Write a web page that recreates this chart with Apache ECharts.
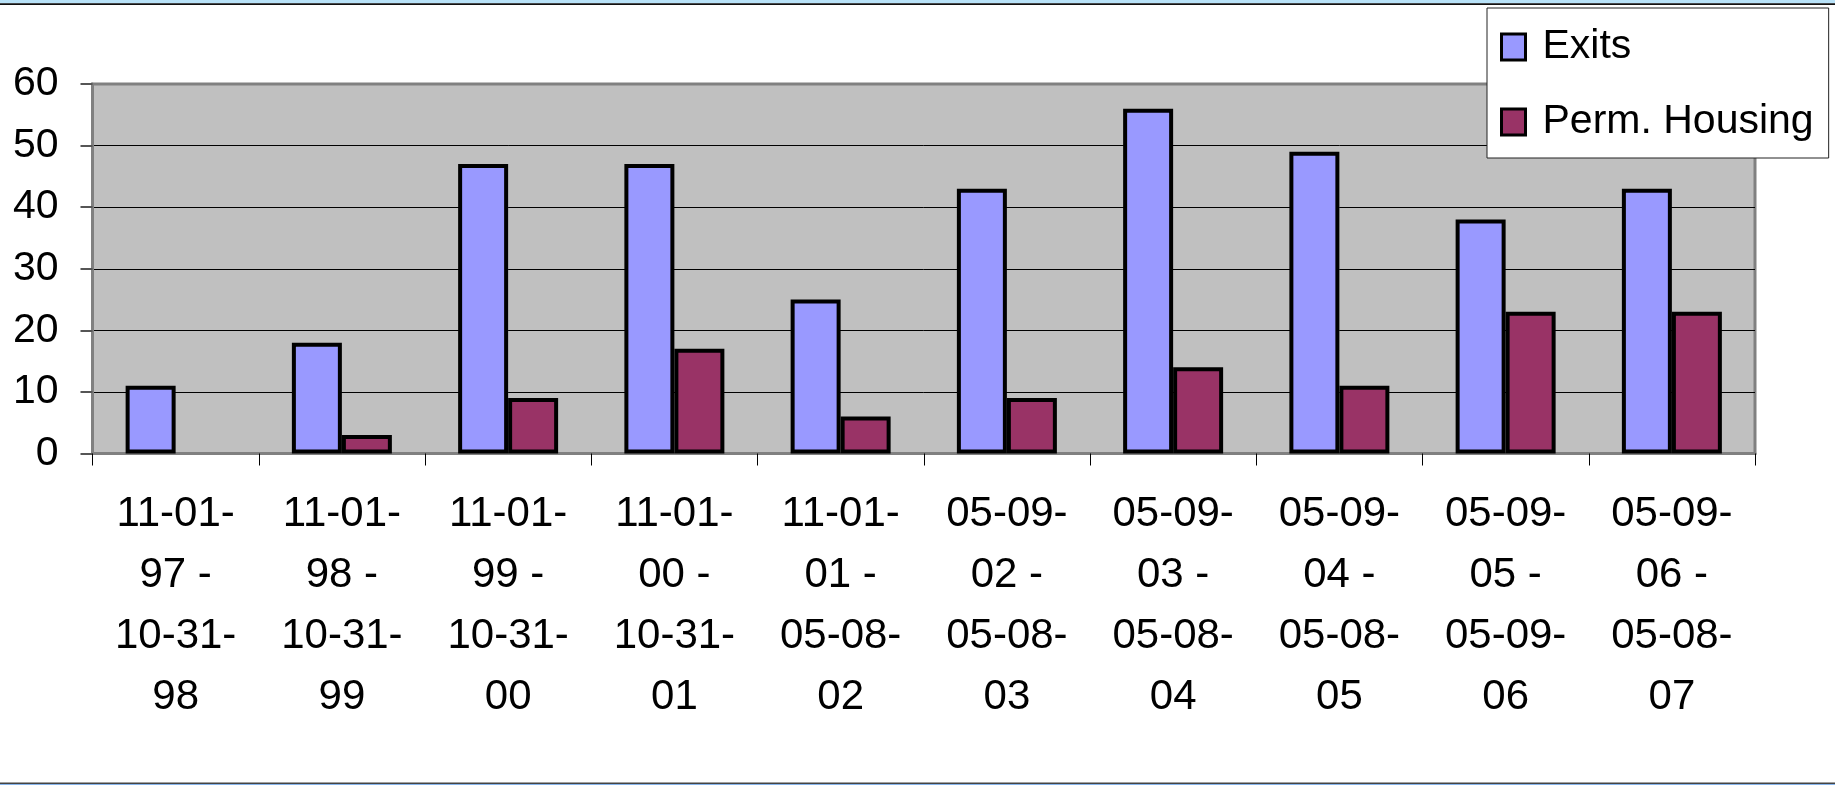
<!DOCTYPE html>
<html>
<head>
<meta charset="utf-8">
<script src="https://cdn.jsdelivr.net/npm/echarts@6/dist/echarts.min.js"></script>
<style>
html,body{margin:0;padding:0;background:#fff;}
#chart{width:1835px;height:785px;}
</style>
</head>
<body>
<div id="chart"></div>
<script>
// Data
const categories = [
  "11-01-\n97 -\n10-31-\n98",
  "11-01-\n98 -\n10-31-\n99",
  "11-01-\n99 -\n10-31-\n00",
  "11-01-\n00 -\n10-31-\n01",
  "11-01-\n01 -\n05-08-\n02",
  "05-09-\n02 -\n05-08-\n03",
  "05-09-\n03 -\n05-08-\n04",
  "05-09-\n04 -\n05-08-\n05",
  "05-09-\n05 -\n05-09-\n06",
  "05-09-\n06 -\n05-08-\n07"
];
const exits = [11, 18, 47, 47, 25, 43, 56, 49, 38, 43];
const permHousing = ['-', 3, 9, 17, 6, 9, 14, 11, 23, 23];
const yTicks = [0, 10, 20, 30, 40, 50, 60];

const FONT = "'Liberation Sans', Arial, sans-serif";
const chart = echarts.init(document.getElementById('chart'));
chart.setOption({
  animation: false,
  backgroundColor: '#ffffff',
  textStyle: { fontFamily: FONT },
  graphic: [
    { type: 'rect', shape: { x: 0, y: 0, width: 1835, height: 3.3 }, style: { fill: '#b8e2f8' }, silent: true },
    { type: 'rect', shape: { x: 0, y: 3.3, width: 1835, height: 1.6 }, style: { fill: '#111111' }, silent: true },
    { type: 'rect', shape: { x: 0, y: 782.6, width: 1835, height: 1.5 }, style: { fill: '#444444' }, silent: true },
    { type: 'rect', shape: { x: 0, y: 784.1, width: 1835, height: 1 }, style: { fill: '#86b4ec' }, silent: true }
  ],
  grid: {
    left: 92.5, right: 80, top: 84, bottom: 331.5,
    show: true, backgroundColor: '#c0c0c0', borderColor: '#808080', borderWidth: 3
  },
  legend: {
    orient: 'vertical',
    left: 1487, top: 8,
    padding: [17, 15, 14, 13],
    backgroundColor: '#ffffff',
    borderColor: '#222222', borderWidth: 1,
    itemWidth: 24, itemHeight: 26, itemGap: 31,
    icon: 'rect',
    itemStyle: { borderColor: '#000', borderWidth: 3 },
    textStyle: { fontFamily: FONT, fontSize: 41, color: '#000', lineHeight: 44, padding: [0, 0, 0, 12] },
    data: ['Exits', 'Perm. Housing']
  },
  xAxis: {
    type: 'category',
    data: categories,
    boundaryGap: true,
    axisLine: { show: true, lineStyle: { color: '#808080', width: 3 } },
    axisTick: { show: true, length: 12, lineStyle: { color: '#000', width: 1 } },
    axisLabel: { fontFamily: FONT, fontSize: 42, lineHeight: 61, color: '#000', margin: 30, interval: 0 },
    splitLine: { show: false }
  },
  yAxis: {
    type: 'value',
    min: yTicks[0], max: yTicks[yTicks.length - 1], interval: 10,
    axisLine: { show: true, lineStyle: { color: '#808080', width: 3 } },
    axisTick: { show: true, length: 12, lineStyle: { color: '#555', width: 2 } },
    axisLabel: { fontFamily: FONT, fontSize: 41, color: '#000', margin: 34 },
    splitLine: { show: true, lineStyle: { color: ['#808080', '#000', '#000', '#000', '#000', '#000', '#808080'], width: 1 } }
  },
  series: [
    {
      name: 'Exits', type: 'bar', data: exits,
      barWidth: 50, barGap: '0%',
      itemStyle: { color: '#9999ff', borderColor: '#000', borderWidth: 4 }
    },
    {
      name: 'Perm. Housing', type: 'bar', data: permHousing,
      barWidth: 50, barGap: '0%',
      itemStyle: { color: '#993366', borderColor: '#000', borderWidth: 4 }
    }
  ]
});
</script>
</body>
</html>
